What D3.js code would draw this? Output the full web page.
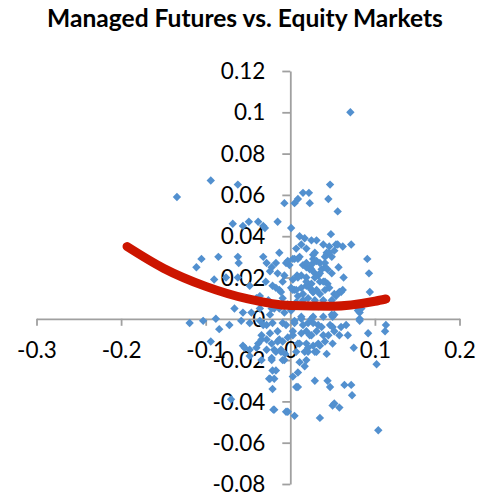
<!DOCTYPE html>
<html><head><meta charset="utf-8">
<script src="https://cdn.jsdelivr.net/npm/d3@7"></script>
<style>html,body{margin:0;padding:0;background:#fff;} svg{display:block;}</style>
</head><body>
<script>
const chartTitle = "Managed Futures vs. Equity Markets";
const xTicks = [-0.3, -0.2, -0.1, 0, 0.1, 0.2];
const xTickLabels = ["-0.3", "-0.2", "-0.1", "0", "0.1", "0.2"];
const yTicks = [0.12, 0.1, 0.08, 0.06, 0.04, 0.02, 0, -0.02, -0.04, -0.06, -0.08];
const yTickLabels = ["0.12", "0.1", "0.08", "0.06", "0.04", "0.02", "0", "-0.02", "-0.04", "-0.06", "-0.08"];

// [equity market return, managed futures return]
const points = [
 [0.071,0.100],[-0.134,0.059],[-0.094,0.067],[-0.062,0.065],[-0.068,0.046],[-0.056,0.045],[-0.049,0.047],
 [-0.038,0.047],[-0.032,0.045],[-0.030,0.044],[-0.015,0.047],[0.001,0.044],[-0.007,0.056],[0.005,0.056],
 [0.009,0.058],[0.015,0.061],[0.022,0.061],[0.023,0.056],[0.047,0.065],[0.045,0.058],[0.056,0.052],
 [0.011,0.040],[0.017,0.039],[0.025,0.038],[0.031,0.038],[0.013,0.036],[0.048,0.041],[0.046,0.035],
 [0.056,0.036],[0.062,0.035],[0.072,0.036],[0.054,0.036],[0.052,0.033],[0.043,0.031],[0.049,0.030],
 [0.043,0.032],[0.029,0.032],[0.091,0.029],[0.093,0.022],[0.094,0.013],[0.027,0.029],[0.031,0.028],
 [0.003,0.029],[-0.001,0.026],[0.015,0.026],[0.023,0.024],[0.037,0.024],[0.041,0.025],[0.035,0.027],
 [0.044,0.024],[0.019,0.034],[0.011,0.030],[0.027,0.031],[0.023,0.025],[0.029,0.022],[0.008,0.021],
 [0.019,0.020],[0.049,0.022],[0.033,0.021],[0.035,0.018],[0.044,0.017],[0.046,0.015],[0.041,0.018],
 [0.025,0.017],[0.013,0.015],[0.029,0.020],[0.023,0.015],[0.027,0.013],[-0.009,0.018],[0.003,0.014],
 [0.031,0.014],[0.035,0.012],[0.058,0.013],[0.062,0.014],[0.054,0.011],[0.009,0.011],[0.015,0.009],
 [0.007,0.008],[0.082,0.003],[0.082,0.000],[0.080,0.004],[0.050,0.001],[0.052,0.002],[0.039,0.001],
 [0.027,0.001],[0.113,-0.003],[0.009,0.029],[0.019,0.025],[0.019,0.016],[0.009,0.020],[0.005,0.029],
 [0.019,0.027],[0.041,0.027],[0.025,0.024],[0.013,0.021],[0.019,0.018],[0.005,0.014],[0.007,0.014],
 [0.001,0.015],[0.025,0.014],[0.046,0.032],[0.041,0.030],[0.027,0.027],[0.035,0.022],[0.039,0.018],
 [0.027,0.013],[0.041,0.014],[0.060,0.013],[0.052,0.012],[0.049,0.009],[0.029,0.009],[0.049,0.002],
 [0.084,0.005],
 [-0.015,0.022],[-0.007,0.021],[0.003,0.019],[0.015,0.012],[0.021,0.010],[0.033,0.006],[0.039,0.009],
 [-0.003,0.007],[0.001,0.004],[-0.007,0.003],[0.031,-0.006],[0.045,-0.008],[-0.003,-0.009],[0.007,-0.016],
 [-0.015,-0.011],[0.039,0.036],[0.007,0.034],[-0.013,0.032],[0.063,0.020],[0.057,0.025],
 [-0.105,0.029],[-0.111,0.025],[-0.085,0.030],[-0.062,0.030],[-0.061,0.027],[-0.090,0.019],[-0.076,0.020],
 [-0.062,0.020],[-0.048,0.016],[-0.040,0.010],[-0.032,0.030],[-0.028,0.027],[-0.022,0.025],[-0.024,0.023],
 [-0.017,0.027],[-0.003,0.028],[-0.005,0.027],[-0.029,0.018],[-0.021,0.016],[-0.017,0.015],[-0.013,0.014],
 [-0.011,0.013],[-0.009,0.010],[-0.026,0.009],[-0.036,0.011],[-0.030,0.008],[-0.036,0.005],[-0.022,0.005],
 [-0.013,0.005],[-0.019,0.005],[-0.024,0.002],[-0.056,0.003],[-0.046,0.003],[-0.066,0.005],[0.013,0.000],
 [0.025,0.000],[0.005,-0.001],[0.013,0.001],
 [-0.119,-0.002],[-0.103,-0.001],[-0.088,0.000],[-0.072,-0.003],[-0.084,-0.005],[-0.094,-0.011],[-0.058,-0.001],
 [-0.048,-0.002],[-0.036,-0.001],[-0.028,-0.003],[-0.021,-0.002],[-0.009,-0.002],[0.005,-0.002],[0.021,-0.002],
 [0.033,-0.003],[0.047,-0.003],[0.066,-0.003],[0.037,-0.004],[0.027,-0.002],[0.015,-0.003],[-0.005,-0.003],
 [0.003,-0.008],[0.019,-0.006],[-0.024,-0.007],[-0.015,-0.006],[0.003,-0.006],[0.013,-0.007],[0.025,-0.008],
 [0.039,-0.008],[0.052,-0.006],[0.050,-0.004],[-0.034,-0.010],[-0.022,-0.012],[-0.009,-0.011],[0.009,-0.012],
 [0.019,-0.012],[0.035,-0.013],[0.050,-0.012],[0.041,-0.011],[0.033,-0.012],[-0.028,-0.015],[-0.017,-0.016],
 [0.017,-0.016],[0.029,-0.016],[0.043,-0.017],[-0.022,-0.020],[-0.034,-0.020],[0.019,-0.020],[0.009,-0.026],
 [-0.021,-0.025],[-0.019,-0.029],[-0.021,-0.034],[0.052,-0.041],[0.058,-0.043],[-0.019,-0.044],[-0.005,-0.045],
 [0.005,-0.047],[0.035,-0.048],[-0.056,-0.013],[-0.048,-0.015],[-0.038,-0.012],[-0.028,-0.010],[-0.034,-0.008],
 [-0.013,-0.010],[-0.019,-0.015],[-0.011,-0.016],[-0.022,-0.019],[-0.007,-0.020],[-0.024,-0.029],[0.009,-0.033],
 [0.003,-0.028],[0.011,-0.021],[0.021,-0.016],[0.027,-0.013],[0.011,-0.012],[0.023,-0.008],[-0.032,-0.003],
 [-0.054,-0.014],[-0.040,-0.014],[-0.048,-0.018],[-0.017,-0.025],[-0.025,-0.029],[0.007,-0.033],[-0.070,-0.039],
 [-0.020,-0.044],[-0.006,-0.017],[0.017,-0.023],[-0.009,-0.020],[-0.011,-0.015],
 [0.112,-0.006],[0.092,-0.007],[0.102,-0.022],[0.068,-0.008],[0.058,-0.008],[0.075,-0.014],[0.082,-0.001],
 [0.029,-0.030],[0.044,-0.030],[0.047,-0.033],[0.064,-0.032],[0.072,-0.032],[0.073,-0.037],[0.050,-0.042],
 [-0.003,-0.045],[0.104,-0.054],[0.031,-0.016],[0.021,-0.014],[0.060,-0.004]
];

// polynomial trend line
const trendX = [-0.193, -0.15, -0.1, -0.05, 0, 0.05, 0.1, 0.113];
const trendY = [0.035, 0.0245, 0.0157, 0.0096, 0.0064, 0.0061, 0.0085, 0.0096];

const W = 477, H = 497;
const svg = d3.select("body").append("svg").attr("width", W).attr("height", H);

const x = d3.scaleLinear().domain([-0.3, 0.2]).range([36.5, 459.5]);
const y = d3.scaleLinear().domain([-0.08, 0.12]).range([484, 71]);

const fontFam = "Lato, 'Open Sans', 'Liberation Sans', sans-serif";

// title
const t = svg.append("text")
  .attr("x", 245).attr("y", 27)
  .attr("text-anchor", "middle")
  .style("font-family", fontFam).style("font-weight", "bold")
  .style("font-size", "22px").attr("fill", "#000")
  .text(chartTitle);
const tl = t.node().getComputedTextLength();
if (tl > 0) t.style("font-size", (22 * 396 / tl).toFixed(2) + "px");

const axisColor = "#a0a0a0";

const yAxis = svg.append("g")
  .attr("transform", `translate(${x(0)},0)`)
  .call(d3.axisLeft(y).tickValues(yTicks).tickSize(8).tickSizeOuter(0).tickPadding(17)
        .tickFormat((d, i) => yTickLabels[i]));
const xAxis = svg.append("g")
  .attr("transform", `translate(0,${y(0)})`)
  .call(d3.axisBottom(x).tickValues(xTicks).tickSize(7).tickSizeOuter(0).tickPadding(16)
        .tickFormat((d, i) => xTickLabels[i]));

[yAxis, xAxis].forEach(g => {
  g.select(".domain").attr("stroke", axisColor).attr("stroke-width", 1.8);
  g.selectAll(".tick line").attr("stroke", axisColor).attr("stroke-width", 1.8);
  g.selectAll(".tick text").attr("fill", "#000")
    .style("font-family", fontFam).style("font-size", "22.5px");
});
yAxis.selectAll(".tick text").attr("dy", "0.34em");
xAxis.selectAll(".tick text").attr("dy", "0.72em");

// scatter markers (diamonds)
const r = 4.2;
svg.append("g").selectAll("path").data(points).join("path")
  .attr("d", d => {
    const cx = x(d[0]), cy = y(d[1]);
    return `M${cx},${cy - r}L${cx + r},${cy}L${cx},${cy + r}L${cx - r},${cy}Z`;
  })
  .attr("fill", "#5290cf");

// trend line
const trend = trendX.map((v, i) => [v, trendY[i]]);
svg.append("path")
  .datum(trend)
  .attr("d", d3.line().x(d => x(d[0])).y(d => y(d[1])).curve(d3.curveMonotoneX))
  .attr("fill", "none").attr("stroke", "#cc1500").attr("stroke-width", 9)
  .attr("stroke-linecap", "round");
</script>
</body></html>
